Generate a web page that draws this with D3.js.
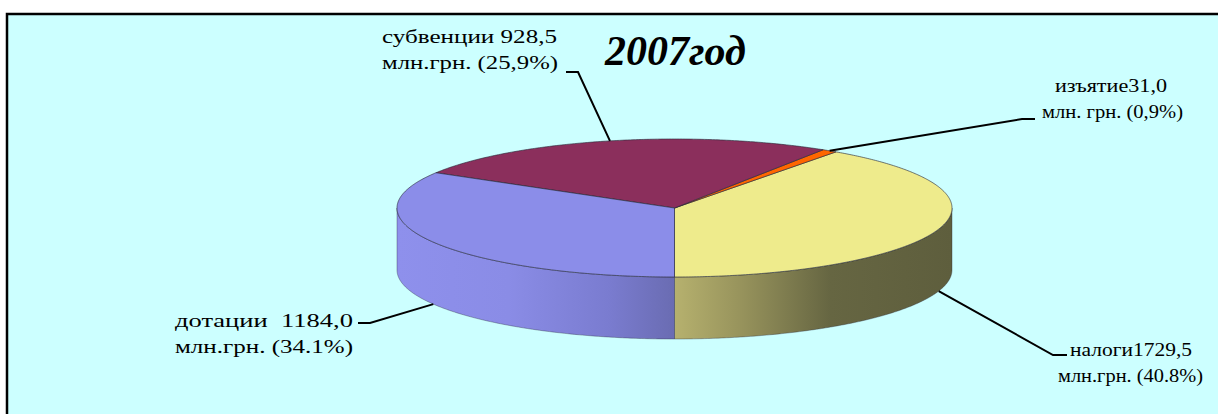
<!DOCTYPE html>
<html>
<head>
<meta charset="utf-8">
<script src="https://cdn.jsdelivr.net/npm/d3@7"></script>
<style>
  html, body { margin: 0; padding: 0; background: #ffffff; }
  svg { display: block; }
  .lbl { font-family: "Liberation Serif", "Times New Roman", serif; font-size: 19px; fill: #000; white-space: pre; }
  .title { font-family: "Liberation Serif", "Times New Roman", serif; font-size: 42px; font-weight: bold; font-style: italic; }
</style>
</head>
<body>
<div id="chart"></div>
<script>
// data
var categories = ["налоги", "изъятие", "субвенции", "дотации"];
var values = [1729.5, 31.0, 928.5, 1184.0];
var percents = [40.8, 0.9, 25.9, 34.1];
var labelLine1 = ["налоги1729,5", "изъятие31,0", "субвенции 928,5", "дотации  1184,0"];
var labelLine2 = ["млн.грн. (40.8%)", "млн. грн. (0,9%)", "млн.грн. (25,9%)", "млн.грн. (34.1%)"];
var titleText = "2007год";

// layout
var W = 1218, H = 414;
var pieDef = {cx: 674.5, cy: 208, rx: 277.5, ry: 69, depth: 62};
var topColors = ["#eeeb8c", "#ff6600", "#8b2f5c", "#8b8de9"];
// label placement: text x / baselines, text widths, leader elbow points
var labelLayout = [
  {x1: 1070, x2: 1058, y: 356, w1: 122, w2: 145, elbow: [1053, 355], end: [1067, 355]},
  {x1: 1055, x2: 1042, y: 92, w1: 112, w2: 141, elbow: [1022, 119], end: [1035, 119]},
  {x1: 382, x2: 382, y: 43, w1: 175, w2: 176, elbow: [578, 72], end: [566, 72]},
  {x1: 175, x2: 175, y: 327, w1: 178, w2: 178, elbow: [370, 323], end: [358, 323]}
];

var svg = d3.select("#chart").append("svg")
  .attr("width", W).attr("height", H);

// chart area frame
svg.append("rect")
  .attr("x", 7).attr("y", 14)
  .attr("width", W + 20).attr("height", H + 20)
  .attr("fill", "#ccffff")
  .attr("stroke", "#000").attr("stroke-width", 2.5);

var defs = svg.append("defs");
function sideGradient(id, stops) {
  var g = defs.append("linearGradient").attr("id", id)
    .attr("gradientUnits", "userSpaceOnUse")
    .attr("x1", pieDef.cx - pieDef.rx).attr("x2", pieDef.cx + pieDef.rx)
    .attr("y1", 0).attr("y2", 0);
  stops.forEach(function(s) {
    g.append("stop").attr("offset", s[0]).attr("stop-color", s[1]);
  });
}
sideGradient("side0", [[0.5, "#b6b16e"], [0.62, "#97935c"], [0.78, "#666642"], [1, "#5e5e3d"]]);
sideGradient("side1", [[0, "#cc5200"], [1, "#cc5200"]]);
sideGradient("side2", [[0, "#6e2549"], [1, "#6e2549"]]);
sideGradient("side3", [[0, "#8e90ec"], [0.2, "#8a8ce6"], [0.38, "#7a7cd0"], [0.5, "#6a6cb2"]]);

// pie layout: start at the bottom, run counter-clockwise on screen
var pie = d3.pie().sort(null).value(function(d) { return d; })
  .startAngle(Math.PI).endAngle(-Math.PI);
var arcs = pie(percents);

function px(a) { return pieDef.cx + pieDef.rx * Math.sin(a); }
function py(a) { return pieDef.cy - pieDef.ry * Math.cos(a); }
function rimPoints(a0, a1, dy) {
  var n = Math.max(2, Math.ceil(Math.abs(a1 - a0) / 0.01));
  return d3.range(n + 1).map(function(i) {
    var a = a0 + (a1 - a0) * i / n;
    return [px(a), py(a) + (dy || 0)];
  });
}
var line = d3.line();

// front-facing range of the rim, intersected per slice
var frontRanges = [[Math.PI / 2, 3 * Math.PI / 2], [-3 * Math.PI / 2, -Math.PI / 2]];
var gSide = svg.append("g");
arcs.forEach(function(d, i) {
  var lo = Math.min(d.startAngle, d.endAngle), hi = Math.max(d.startAngle, d.endAngle);
  frontRanges.forEach(function(r) {
    var a0 = Math.max(lo, r[0]), a1 = Math.min(hi, r[1]);
    if (a1 <= a0) return;
    var pts = rimPoints(a0, a1, 0).concat(rimPoints(a1, a0, pieDef.depth));
    gSide.append("path")
      .attr("d", line(pts) + "Z")
      .attr("fill", "url(#side" + i + ")")
      .attr("stroke", "#2b2b3a").attr("stroke-width", 0.6).attr("stroke-opacity", 0.6);
  });
});

// top faces
var gTop = svg.append("g");
arcs.forEach(function(d, i) {
  var pts = [[pieDef.cx, pieDef.cy]].concat(rimPoints(d.startAngle, d.endAngle, 0));
  gTop.append("path")
    .attr("d", line(pts) + "Z")
    .attr("fill", topColors[i])
    .attr("stroke", "#2b2b3a").attr("stroke-width", 0.8).attr("stroke-opacity", 0.8);
});

// leader lines and labels
var gLbl = svg.append("g");
arcs.forEach(function(d, i) {
  var mid = (d.startAngle + d.endAngle) / 2;
  var front = Math.cos(mid) < 0;
  var anchor = [px(mid), py(mid) + (front ? pieDef.depth : 0)];
  var L = labelLayout[i];
  gLbl.append("path")
    .attr("d", line([anchor, L.elbow, L.end]))
    .attr("fill", "none").attr("stroke", "#000").attr("stroke-width", 2);
  gLbl.append("text").attr("class", "lbl")
    .attr("x", L.x1).attr("y", L.y)
    .attr("textLength", L.w1).attr("lengthAdjust", "spacingAndGlyphs")
    .text(labelLine1[i]);
  gLbl.append("text").attr("class", "lbl")
    .attr("x", L.x2).attr("y", L.y + 26)
    .attr("textLength", L.w2).attr("lengthAdjust", "spacingAndGlyphs")
    .text(labelLine2[i]);
});

svg.append("text").attr("class", "title")
  .attr("x", 605).attr("y", 65)
  .text(titleText);
</script>
</body>
</html>
